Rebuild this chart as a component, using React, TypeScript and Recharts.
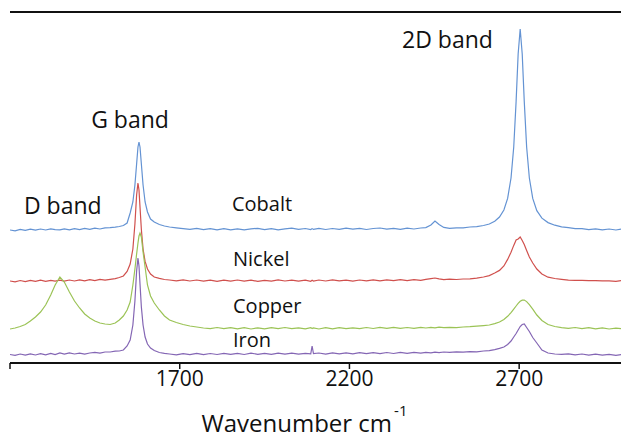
import React from 'react';
import { LineChart, Line, XAxis, YAxis, ReferenceLine, ReferenceDot } from 'recharts';

// Raman shift (cm-1) sample positions
const wavenumbers = [
  1200, 1215, 1230, 1245, 1260, 1275, 1290, 1305, 1320, 1333,
  1347, 1360, 1375, 1390, 1405, 1420, 1435, 1450, 1465, 1480,
  1495, 1510, 1522, 1534, 1545, 1554, 1562, 1568, 1573, 1577,
  1580, 1583, 1587, 1592, 1598, 1605, 1614, 1625, 1640, 1655,
  1670, 1690, 1710, 1730, 1750, 1770, 1790, 1810, 1830, 1850,
  1870, 1890, 1910, 1930, 1950, 1970, 1990, 2010, 2030, 2050,
  2070, 2086, 2090, 2094, 2110, 2130, 2150, 2170, 2190, 2210,
  2230, 2250, 2270, 2290, 2310, 2330, 2350, 2370, 2390, 2410,
  2425, 2440, 2452, 2464, 2478, 2495, 2515, 2535, 2555, 2575,
  2595, 2612, 2628, 2642, 2655, 2666, 2676, 2684, 2691, 2697,
  2703, 2709, 2715, 2722, 2730, 2740, 2752, 2767, 2785, 2805,
  2825, 2845, 2865, 2885, 2905, 2925, 2945, 2965, 2985, 3000,
];

// intensities, already stacked with the offsets used in the figure
const cobalt = [
  133, 132.2, 133.6, 132.6, 133.8, 132.8, 134, 133, 134.2, 133.3,
  133.1, 134.2, 133.2, 134.4, 133.4, 134.6, 133.6, 134.8, 134, 135.2,
  135.4, 135.8, 136.5, 137.5, 140, 150, 161, 178, 199, 216,
  221, 216, 199, 178, 161, 151, 144, 141, 138.5, 137,
  136, 135.2, 134.4, 133.6, 134.6, 133.4, 134.4, 133.2, 134.3, 133.2,
  134.2, 133.1, 134.1, 134.7, 133.4, 134.4, 133.2, 134.2, 134.8, 133.6,
  134.5, 133.4, 134.4, 133.6, 134.7, 133.5, 134.5, 133.7, 134.8, 133.8,
  134.6, 133.5, 134.5, 135, 133.8, 134.7, 133.7, 134.8, 134, 135,
  135.4, 138, 142, 138.6, 135.6, 134.6, 135.2, 135.1, 136, 136.4,
  137.5, 139, 141.7, 146, 153, 164.6, 185, 216, 261.6, 309,
  334, 309, 261.6, 216, 185, 164.6, 152.3, 144.8, 140.4, 137.8,
  136.2, 135.4, 134.4, 134.4, 133.4, 134.2, 133.2, 134, 133, 133.8,
];

const nickel = [
  82, 81.2, 82.5, 81.4, 82.7, 81.6, 82.8, 81.7, 82.6, 81.8,
  82.9, 81.9, 83, 82, 83.2, 82.2, 83.3, 82.4, 83.6, 82.8,
  83.6, 84.3, 85.5, 87, 91.5, 99, 114, 139, 168, 180,
  173, 156, 133.5, 114, 101.6, 94, 89, 86, 84.6, 83.5,
  83, 82.2, 83.2, 82, 83, 81.8, 82.9, 81.7, 82.8, 81.9,
  83, 81.8, 82.8, 81.6, 82.7, 81.9, 83.1, 82, 82.9, 81.8,
  82.8, 81.7, 82.7, 81.9, 83, 82, 83.1, 82.1, 82.9, 81.9,
  83, 82.1, 83.2, 82.2, 83.1, 82.3, 83.3, 82.4, 83.4, 82.6,
  83.6, 84.4, 85, 84.2, 83.4, 83.8, 83.5, 84, 84.2, 84.8,
  86, 87.4, 90, 92.6, 97, 103.6, 110.7, 117.6, 123, 124,
  126, 122.5, 118.5, 112.5, 106, 100, 94, 89, 85.8, 84.5,
  83.6, 82.8, 82.6, 82.6, 82.4, 82.4, 82.2, 82.2, 81.6, 82.4,
];

const copper = [
  34, 35, 36.5, 38.5, 42, 46, 51, 58, 68, 78,
  86, 81, 71, 62, 55, 49, 45, 42, 40, 39,
  38.5, 40, 43, 47, 53, 61, 78, 94, 109, 120,
  127, 130, 126, 111, 96, 78, 67, 60, 53, 47,
  43, 40.5, 38.5, 37, 36, 35, 34.4, 35.5, 34.3, 35.4,
  34.2, 35.3, 34, 35.2, 34.1, 35.4, 34.3, 35.5, 34.4, 35.2,
  34.2, 35.4, 34.4, 35.2, 34, 35.3, 34.2, 35.4, 34.4, 35.2,
  34.3, 35.5, 34.5, 35.6, 34.6, 35.7, 34.7, 35.5, 34.6, 35.7,
  35, 35.6, 35.2, 35.8, 35.3, 35.7, 35.4, 36, 36.3, 36.8,
  37.4, 38, 39.4, 41, 43.5, 46.7, 50.3, 53.8, 57, 59.6,
  61.7, 62.8, 63, 61.4, 58.3, 53.8, 48, 42.5, 38.5, 36.5,
  35.4, 34.6, 35.5, 34.4, 35.3, 34.2, 35.1, 34, 34.9, 34.3,
];

const iron = [
  8.5, 7.6, 9, 7.8, 9.2, 8, 9.4, 8.2, 9.6, 8.4,
  10, 8.8, 10.2, 9, 9.8, 8.8, 10, 10.6, 9.8, 11,
  11, 11.8, 12, 13, 17, 23, 38, 62, 92, 105,
  97, 79, 56, 38, 26, 19, 15, 12.5, 10.5, 9.6,
  9, 8.2, 9.4, 8.4, 9.6, 8.4, 9.5, 8.5, 9.7, 8.6,
  9.6, 8.5, 9.8, 8.7, 9.7, 8.6, 9.9, 8.8, 9.8, 8.9,
  9.6, 9.2, 17, 9.4, 10, 8.9, 10.1, 9.1, 10.2, 9.2,
  10.3, 9.3, 10.4, 9.4, 10.5, 9.5, 10.6, 9.6, 10.7, 9.8,
  10.6, 10.2, 10.8, 10.4, 11, 10.6, 11.2, 10.8, 11.4, 11.2,
  12, 12.4, 13.4, 14.6, 16, 18.5, 22, 26, 29.5, 33,
  36.5, 38.5, 39, 35.5, 31.5, 25.5, 20, 13, 10, 9,
  8.6, 9.2, 8.1, 9, 7.9, 8.8, 7.8, 8.7, 7.7, 8.4,
];

const xTicks = [1200, 1700, 2200, 2700];

// [text, wavenumber, intensity, font size]
const annotations: [string, number, number, number][] = [
  ['2D band', 2355, 315, 23],
  ['G band', 1439, 235, 23],
  ['D band', 1241, 149, 23],
  ['Cobalt', 1854, 152, 20],
  ['Nickel', 1857, 97, 20],
  ['Copper', 1857, 50, 20],
  ['Iron', 1857, 16, 20],
];

const data = wavenumbers.map((wn, i) => ({
  wn,
  cobalt: cobalt[i],
  nickel: nickel[i],
  copper: copper[i],
  iron: iron[i],
}));

const FONT = '"Open Sans", sans-serif';

const AxisTitle = (props: any) => {
  const { viewBox } = props;
  const cx = viewBox.x + viewBox.width / 2 - 11;
  const y = viewBox.y + 69;
  return (
    <text x={cx} y={y} textAnchor="middle" fontFamily={FONT} fontSize={24} fill="#111">
      Wavenumber cm<tspan dx={2} dy={-16} fontSize={15}>-1</tspan>
    </text>
  );
};

export default function App() {
  return (
    <div style={{ position: 'absolute', left: 0, top: 0, background: '#fff' }}>
      <LineChart width={621} height={438} data={data} margin={{ top: 12, right: 0, left: 10, bottom: 0 }}>
        <XAxis
          dataKey="wn"
          type="number"
          domain={[1200, 3000]}
          ticks={xTicks}
          tickFormatter={(v: number) => (v === 1200 ? '' : String(v))}
          tickSize={6}
          tickLine={{ stroke: '#111', strokeWidth: 1.5 }}
          axisLine={{ stroke: '#111', strokeWidth: 2 }}
          tick={{ fontFamily: FONT, fontSize: 21, fill: '#111' }}
          height={75}
          allowDataOverflow
          label={<AxisTitle />}
        />
        <YAxis
          type="number"
          domain={[0, 351]}
          width={0}
          tick={false}
          tickLine={false}
          axisLine={{ stroke: '#111', strokeWidth: 2 }}
        />
        <ReferenceLine y={351} stroke="#111" strokeWidth={2} />
        <Line type="linear" dataKey="cobalt" stroke="#6493D3" strokeWidth={1.2} dot={false} isAnimationActive={false} />
        <Line type="linear" dataKey="nickel" stroke="#D0504D" strokeWidth={1.2} dot={false} isAnimationActive={false} />
        <Line type="linear" dataKey="copper" stroke="#9BC356" strokeWidth={1.2} dot={false} isAnimationActive={false} />
        <Line type="linear" dataKey="iron" stroke="#8466B4" strokeWidth={1.2} dot={false} isAnimationActive={false} />
        {annotations.map(([text, x, y, size]) => (
          <ReferenceDot
            key={text}
            x={x}
            y={y}
            r={0}
            fill="none"
            stroke="none"
            label={(p: any) => (
              <text x={p.viewBox.x} y={p.viewBox.y} fontFamily={FONT} fontSize={size} fill="#111">
                {text}
              </text>
            )}
          />
        ))}
      </LineChart>
    </div>
  );
}
